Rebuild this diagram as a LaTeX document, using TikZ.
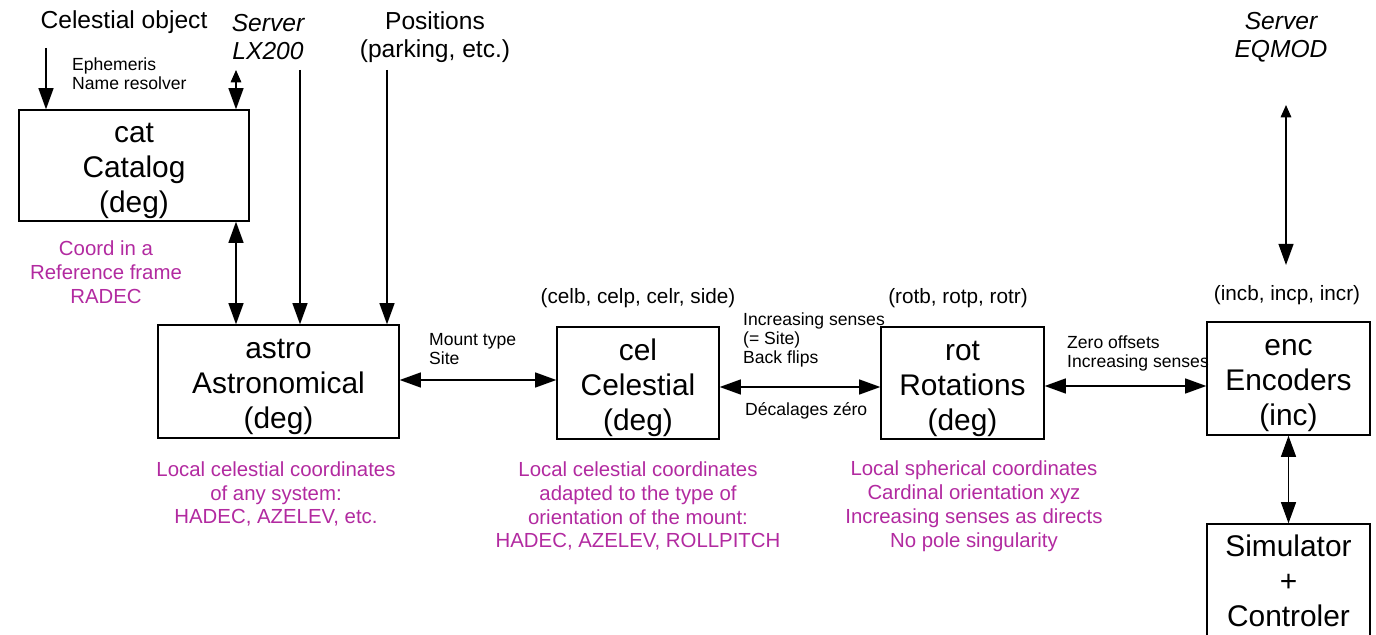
\documentclass[tikz,border=0pt]{standalone}
\usepackage{fontspec}
\setmainfont{Liberation Sans}
\usetikzlibrary{positioning,arrows.meta}
\definecolor{notecol}{RGB}{178,42,160}
\newcommand{\topstr}{\rule{0pt}{17.5pt}}

\tikzset{
  frame/.style={draw,line width=0.8pt,align=center,inner sep=0pt,
    font=\fontsize{17}{20}\selectfont},
  note/.style={align=center,text=notecol,font=\fontsize{11.6}{13.6}\selectfont},
  tag/.style={align=center,font=\fontsize{14}{16}\selectfont},
  small/.style={align=left,anchor=west,font=\fontsize{10}{10.8}\selectfont},
  coordlbl/.style={font=\fontsize{11.8}{14}\selectfont},
  link/.style={line width=0.8pt,-{Triangle[length=12pt,width=8.5pt]}},
  dlink/.style={line width=0.8pt,{Triangle[length=12pt,width=8.5pt]}-{Triangle[length=12pt,width=8.5pt]}},
  slink/.style={line width=0.8pt,{Triangle[length=7pt,width=6pt]}-{Triangle[length=12pt,width=8.5pt]}}
}

\begin{document}
\begin{tikzpicture}[x=0.02cm,y=-0.02cm]
  \useasboundingbox (0,0) rectangle (1376,635);

  % the frames
  \node[frame,minimum width=4.6cm,minimum height=2.22cm](cat) at (134,165.5){\topstr cat\\Catalog\\(deg)};
  \node[frame,minimum width=4.82cm,minimum height=2.26cm](astro) at (278.5,381.5){\topstr astro\\Astronomical\\(deg)};
  \node[frame,minimum width=3.24cm,minimum height=2.24cm](cel) at (638,383){\topstr cel\\Celestial\\(deg)};
  \node[frame,minimum width=3.26cm,minimum height=2.24cm](rot) at (962.5,383){\topstr rot\\Rotations\\(deg)};
  \node[frame,minimum width=3.26cm,minimum height=2.26cm](enc) at (1288.5,378.5){\topstr enc\\Encoders\\(inc)};
  \node[frame,minimum width=3.26cm,minimum height=2.26cm](sim) at (1288.5,580.5){Simulator\\+\\Controler};

  % inputs
  \node[tag](objlbl) at (124,22){Celestial object};
  \node[tag,font=\fontsize{14}{16}\selectfont\itshape](lxlbl) at (268,37){Server\\LX200};
  \node[tag](poslbl) at (435,37){Positions\\(parking, etc.)};
  \node[tag,font=\fontsize{14}{16}\selectfont\itshape](eqlbl) at (1281,37){Server\\EQMOD};
  \node[small](ephlbl) at (66,74){Ephemeris\\Name resolver};

  % variables
  \node[coordlbl](celvar) at (638,298){(celb, celp, celr, side)};
  \node[coordlbl](rotvar) at (958,298){(rotb, rotp, rotr)};
  \node[coordlbl](encvar) at (1287,295){(incb, incp, incr)};

  % notes
  \node[note](catnote) at (106,272){Coord in a\\Reference frame\\RADEC};
  \node[note](astronote) at (276,494){Local celestial coordinates\\of any system:\\HADEC, AZELEV, etc.};
  \node[note](celnote) at (638,506){Local celestial coordinates\\adapted to the type of\\orientation of the mount:\\HADEC, AZELEV, ROLLPITCH};
  \node[note](rotnote) at (974,506){Local spherical coordinates\\Cardinal orientation xyz\\Increasing senses as directs\\No pole singularity};

  % link labels
  \node[small](mountlbl) at (423,349){Mount type\\Site};
  \node[small](flipslbl) at (737,340){Increasing senses\\(= Site)\\Back flips};
  \node[small](declbl) at (739,411){Décalages zéro};
  \node[small](zerolbl) at (1061,353){Zero offsets\\Increasing senses};

  \coordinate (objtop) at (46,48);
  \coordinate (lxtop) at (236,70);
  \coordinate (lxfoot) at (300,70);
  \coordinate (postop) at (387,70);
  \coordinate (eqtop) at (1286,105);
  \coordinate (eqfoot) at (1286,265);

  \draw[link] (objtop) -- (objtop |- cat.north);
  \draw[slink] (lxtop) -- (lxtop |- cat.north);
  \draw[dlink] (cat.south -| lxtop) -- (lxtop |- astro.north);
  \draw[link] (lxfoot) -- (lxfoot |- astro.north);
  \draw[link] (postop) -- (postop |- astro.north);
  \draw[dlink] ([yshift=0.03cm]astro.east) -- ([yshift=0.03cm]astro.east -| cel.west);
  \draw[dlink] ([yshift=-0.08cm]cel.east) -- ([yshift=-0.08cm]rot.west);
  \draw[dlink] ([yshift=-0.06cm]rot.east) -- ([yshift=-0.06cm]rot.east -| enc.west);
  \draw[slink] (eqtop) -- (eqfoot);
  \draw[dlink] (enc.south) -- (sim.north);
\end{tikzpicture}
\end{document}
